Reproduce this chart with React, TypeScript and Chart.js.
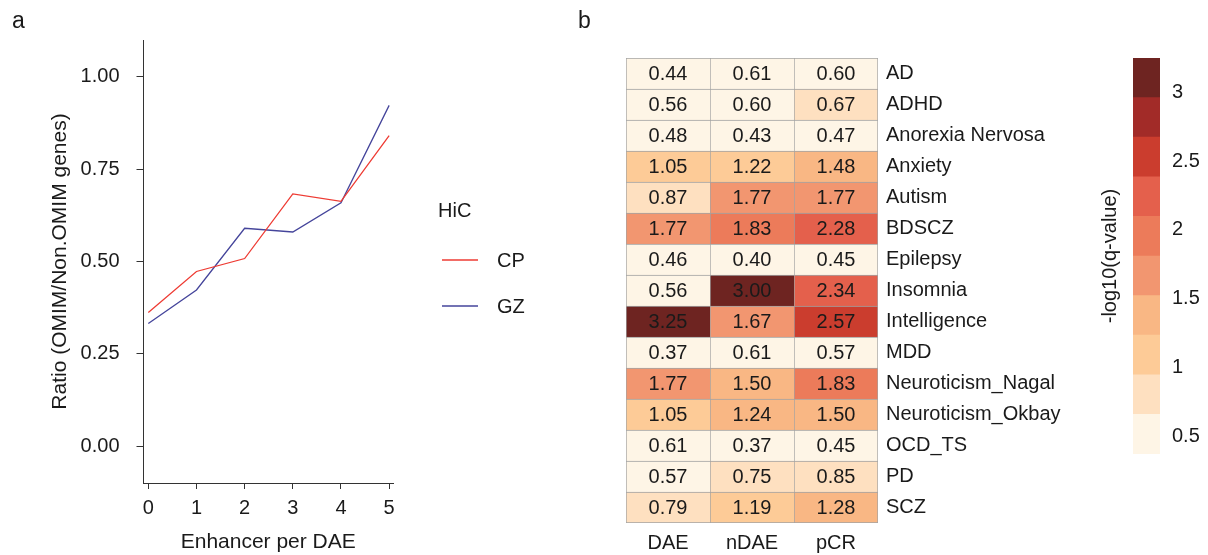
import React, { useEffect, useRef } from "react";
import { Chart, registerables } from "chart.js";

Chart.register(...registerables);

const FONT = "'Liberation Sans', Arial, Helvetica, sans-serif";
const TXT = "#1a1a1a";

// ---- Panel a data ----
const enhancerCounts = [0, 1, 2, 3, 4, 5];
const cpRatio = [0.362, 0.473, 0.508, 0.683, 0.663, 0.841];
const gzRatio = [0.332, 0.423, 0.59, 0.58, 0.659, 0.923];
const ratioTicks = [0, 0.25, 0.5, 0.75, 1];
const seriesNames = ["CP", "GZ"];
const seriesColors = ["#EE3B33", "#45459B"];

// ---- Panel b data ----
const diseases = [
  "AD",
  "ADHD",
  "Anorexia Nervosa",
  "Anxiety",
  "Autism",
  "BDSCZ",
  "Epilepsy",
  "Insomnia",
  "Intelligence",
  "MDD",
  "Neuroticism_Nagal",
  "Neuroticism_Okbay",
  "OCD_TS",
  "PD",
  "SCZ",
];
const columns = ["DAE", "nDAE", "pCR"];
const daeValues = [0.44, 0.56, 0.48, 1.05, 0.87, 1.77, 0.46, 0.56, 3.25, 0.37, 1.77, 1.05, 0.61, 0.57, 0.79];
const ndaeValues = [0.61, 0.6, 0.43, 1.22, 1.77, 1.83, 0.4, 3.0, 1.67, 0.61, 1.5, 1.24, 0.37, 0.75, 1.19];
const pcrValues = [0.6, 0.67, 0.47, 1.48, 1.77, 2.28, 0.45, 2.34, 2.57, 0.57, 1.83, 1.5, 0.45, 0.85, 1.28];
const colorbarTicks = [0.5, 1, 1.5, 2, 2.5, 3];
const binColors = [
  "#FEF5E6",
  "#FEE0C0",
  "#FDCB97",
  "#F9B784",
  "#F29670",
  "#EC7B5A",
  "#E4604C",
  "#CB3D2E",
  "#A22B28",
  "#6E2421",
];

const columnValues = [daeValues, ndaeValues, pcrValues];
const allValues = [...daeValues, ...ndaeValues, ...pcrValues];
const vMin = Math.min(...allValues);
const vMax = Math.max(...allValues);
const nBins = binColors.length;
const binStep = (vMax - vMin) / nBins;
const colorFor = (v: number) => {
  let b = Math.floor((v - vMin) / binStep);
  if (b < 0) b = 0;
  if (b > nBins - 1) b = nBins - 1;
  return binColors[b];
};

export default function App() {
  const lineRef = useRef<HTMLCanvasElement | null>(null);
  const heatRef = useRef<HTMLCanvasElement | null>(null);
  const barRef = useRef<HTMLCanvasElement | null>(null);

  useEffect(() => {
    const charts: Chart[] = [];

    // ---------- Line chart (panel a) ----------
    const legendPlugin = {
      id: "customLegend",
      afterDraw(chart: any) {
        const ctx = chart.ctx;
        ctx.save();
        ctx.fillStyle = TXT;
        ctx.font = `23px ${FONT}`;
        ctx.textBaseline = "alphabetic";
        ctx.textAlign = "left";
        ctx.fillText("a", 12, 28);
        ctx.font = `20px ${FONT}`;
        ctx.textBaseline = "middle";
        ctx.fillText("HiC", 438, 211);
        chart.data.datasets.forEach((ds: any, i: number) => {
          const y = 260 + i * 46;
          ctx.strokeStyle = ds.borderColor;
          ctx.lineWidth = 1.3;
          ctx.beginPath();
          ctx.moveTo(442, y);
          ctx.lineTo(478, y);
          ctx.stroke();
          ctx.fillStyle = TXT;
          ctx.fillText(ds.label, 497, y + 1);
        });
        ctx.restore();
      },
    };

    const lineChart = new Chart(lineRef.current as HTMLCanvasElement, {
      type: "line",
      data: {
        datasets: [cpRatio, gzRatio].map((arr, i) => ({
          label: seriesNames[i],
          data: enhancerCounts.map((x, j) => ({ x, y: arr[j] })),
          borderColor: seriesColors[i],
          backgroundColor: seriesColors[i],
          borderWidth: 1.3,
          pointRadius: 0,
          tension: 0,
          fill: false,
        })),
      },
      options: {
        animation: false,
        responsive: false,
        maintainAspectRatio: false,
        layout: { padding: { top: 40, right: 167, left: 0, bottom: 0 } },
        plugins: { legend: { display: false }, tooltip: { enabled: false } },
        scales: {
          x: {
            type: "linear",
            min: -0.1,
            max: 5.08,
            afterFit(s: any) {
              s.height = 72;
            },
            afterBuildTicks(s: any) {
              s.ticks = enhancerCounts.map((v) => ({ value: v }));
            },
            grid: { drawOnChartArea: false, drawTicks: true, tickLength: 6, color: "#333" },
            border: { color: "#333", width: 1 },
            ticks: {
              font: { family: FONT, size: 20 },
              color: TXT,
              padding: 7,
              maxRotation: 0,
              autoSkip: false,
            },
            title: {
              display: true,
              text: "Enhancer per DAE",
              font: { family: FONT, size: 21 },
              color: TXT,
              padding: { top: 0, bottom: 0 },
            },
          },
          y: {
            type: "linear",
            min: -0.1,
            max: 1.1,
            afterFit(s: any) {
              s.width = 143.5;
            },
            afterBuildTicks(s: any) {
              s.ticks = ratioTicks.map((v) => ({ value: v }));
            },
            grid: { drawOnChartArea: false, drawTicks: true, tickLength: 7, color: "#333" },
            border: { color: "#333", width: 1 },
            ticks: {
              font: { family: FONT, size: 20 },
              color: TXT,
              padding: 17,
              callback: (v: any) => Number(v).toFixed(2),
            },
            title: {
              display: true,
              text: "Ratio (OMIM/Non.OMIM genes)",
              font: { family: FONT, size: 21 },
              color: TXT,
              padding: { top: 48, bottom: 0 },
            },
          },
        },
      },
      plugins: [legendPlugin],
    } as any);
    charts.push(lineChart);

    // ---------- Heatmap (panel b) ----------
    const cellTextPlugin = {
      id: "cellText",
      afterDatasetsDraw(chart: any) {
        const ctx = chart.ctx;
        ctx.save();
        ctx.font = `20px ${FONT}`;
        ctx.fillStyle = TXT;
        ctx.textAlign = "center";
        ctx.textBaseline = "middle";
        chart.data.datasets.forEach((_ds: any, ci: number) => {
          const meta = chart.getDatasetMeta(ci);
          meta.data.forEach((el: any, r: number) => {
            const cx = (el.x + el.base) / 2;
            ctx.fillText(columnValues[ci][r].toFixed(2), cx, el.y + 1);
          });
        });
        ctx.textAlign = "left";
        ctx.textBaseline = "alphabetic";
        ctx.font = `23px ${FONT}`;
        ctx.fillText("b", 18, 28);
        ctx.restore();
      },
    };

    const heatChart = new Chart(heatRef.current as HTMLCanvasElement, {
      type: "bar",
      data: {
        labels: diseases,
        datasets: columns.map((c, ci) => ({
          label: c,
          data: diseases.map(() => [ci, ci + 1]),
          backgroundColor: columnValues[ci].map((v) => colorFor(v)),
          borderColor: "#A3A3A3",
          borderWidth: (ctx: any) => ({
            top: 1,
            left: 1,
            bottom: ctx.dataIndex === diseases.length - 1 ? 1 : 0,
            right: ctx.datasetIndex === columns.length - 1 ? 1 : 0,
          }),
          borderSkipped: false,
          barPercentage: 1,
          categoryPercentage: 1,
          grouped: false,
        })),
      },
      options: {
        indexAxis: "y",
        animation: false,
        responsive: false,
        maintainAspectRatio: false,
        layout: { padding: { top: 58, left: 66, right: 0, bottom: 0 } },
        plugins: { legend: { display: false }, tooltip: { enabled: false } },
        scales: {
          y: {
            type: "category",
            position: "right",
            offset: true,
            afterFit(s: any) {
              s.width = 202;
            },
            grid: { display: false, drawTicks: false },
            border: { display: false },
            ticks: {
              font: { family: FONT, size: 20 },
              color: TXT,
              padding: 8,
              autoSkip: false,
            },
          },
          x: {
            type: "linear",
            position: "bottom",
            min: 0,
            max: columns.length,
            afterFit(s: any) {
              s.height = 32;
            },
            afterBuildTicks(s: any) {
              s.ticks = columns.map((_c, i) => ({ value: i + 0.5 }));
            },
            grid: { display: false, drawTicks: false },
            border: { display: false },
            ticks: {
              font: { family: FONT, size: 20 },
              color: TXT,
              padding: 8,
              maxRotation: 0,
              autoSkip: false,
              callback: (_v: any, i: number) => columns[i],
            },
          },
        },
      },
      plugins: [cellTextPlugin],
    } as any);
    charts.push(heatChart);

    // ---------- Colorbar ----------
    const barChart = new Chart(barRef.current as HTMLCanvasElement, {
      type: "bar",
      data: {
        labels: ["q"],
        datasets: binColors.map((col, b) => ({
          label: "bin" + b,
          data: [[vMin + b * binStep, vMin + (b + 1) * binStep]],
          backgroundColor: col,
          borderWidth: 0,
          barPercentage: 1,
          categoryPercentage: 1,
          grouped: false,
        })),
      },
      options: {
        animation: false,
        responsive: false,
        maintainAspectRatio: false,
        layout: { padding: { top: 58, bottom: 101, left: 0, right: 0 } },
        plugins: { legend: { display: false }, tooltip: { enabled: false } },
        scales: {
          x: { type: "category", display: false, offset: true },
          y: {
            type: "linear",
            position: "right",
            min: vMin,
            max: vMax,
            afterFit(s: any) {
              s.width = 48;
            },
            afterBuildTicks(s: any) {
              s.ticks = colorbarTicks.map((v) => ({ value: v }));
            },
            grid: { display: false, drawTicks: false },
            border: { display: false },
            ticks: {
              font: { family: FONT, size: 20 },
              color: TXT,
              padding: 12,
              callback: (v: any) => String(v),
            },
          },
          yTitle: {
            type: "linear",
            position: "left",
            min: vMin,
            max: vMax,
            afterFit(s: any) {
              s.width = 53;
            },
            grid: { display: false, drawTicks: false },
            border: { display: false },
            ticks: { display: false },
            title: {
              display: true,
              text: "-log10(q-value)",
              font: { family: FONT, size: 20 },
              color: TXT,
              padding: { top: 18, bottom: 0 },
            },
          },
        },
      },
    } as any);
    charts.push(barChart);

    return () => {
      charts.forEach((c) => c.destroy());
    };
  }, []);

  return (
    <div
      style={{
        position: "absolute",
        left: 0,
        top: 0,
        width: 1208,
        height: 555,
        background: "#ffffff",
        overflow: "hidden",
      }}
    >
      <canvas
        ref={lineRef}
        width={560}
        height={555}
        style={{ position: "absolute", left: 0, top: 0, width: 560, height: 555 }}
      />
      <canvas
        ref={heatRef}
        width={520}
        height={555}
        style={{ position: "absolute", left: 560, top: 0, width: 520, height: 555 }}
      />
      <canvas
        ref={barRef}
        width={128}
        height={555}
        style={{ position: "absolute", left: 1080, top: 0, width: 128, height: 555 }}
      />
    </div>
  );
}
